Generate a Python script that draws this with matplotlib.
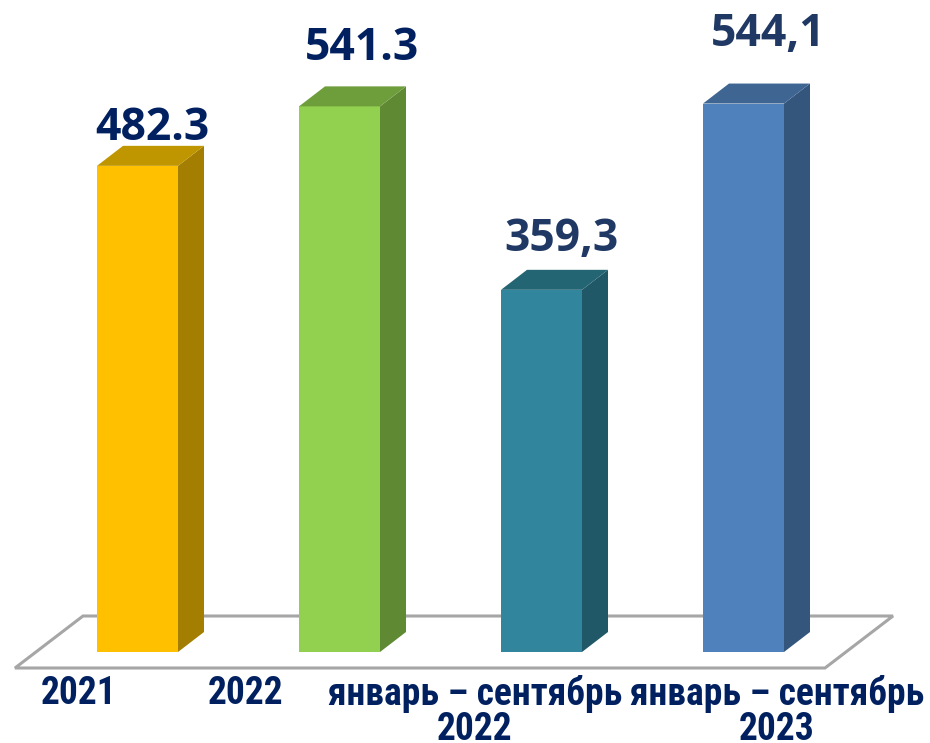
import matplotlib
matplotlib.use('Agg')
import matplotlib.pyplot as plt
import matplotlib.patches as patches

# --- data ---
categories = ['2021', '2022', 'январь – сентябрь\n2022', 'январь – сентябрь\n2023']
values = [482.3, 541.3, 359.3, 544.1]
value_labels = ['482.3', '541.3', '359,3', '544,1']

# --- colours (front, side, top) ---
FRONT = ['#FFC000', '#92D050', '#31859C', '#4F81BD']
SIDE = ['#A37E00', '#5F8A33', '#215868', '#34557C']
TOP = ['#C09600', '#6E9E3C', '#246573', '#3F6592']
LABEL_COL = ['#002060', '#002060', '#1F3864', '#1F3864']
CAT_COL = '#002060'
FLOOR_EDGE = '#A6A6A6'

# --- layout (pixel based, converted to data units) ---
PX_X0 = 137.5      # pixel x of first bar centre
PX_STEP = 202.0    # pixels between bars
PX_BASE = 652.0    # pixel row (from top) of value 0
PX_PER_UNIT = 1.008
W, H = 930, 743

def dx(px):
    return px / PX_STEP

def dy(px):
    return px / PX_PER_UNIT

def to_data(px, py):
    return (px - PX_X0) / PX_STEP, (PX_BASE - py) / PX_PER_UNIT

BAR_W = dx(81)
DEPTH_X = dx(26)
DEPTH_Y = dy(20)

fig = plt.figure(figsize=(W / 100, H / 100), dpi=100)
ax = fig.add_axes([0, 0, 1, 1])
ax.set_xlim(to_data(0, 0)[0], to_data(W, 0)[0])
ax.set_ylim(to_data(0, H)[1], to_data(0, 0)[1])
ax.axis('off')

# floor
floor = [to_data(15, 668), to_data(825, 668), to_data(893, 616), to_data(83, 616)]
ax.add_patch(patches.Polygon(floor, closed=True, facecolor='white', edgecolor=FLOOR_EDGE,
                             linewidth=2.2, zorder=1, joinstyle='miter'))

xs = list(range(len(values)))
ax.bar(xs, values, width=BAR_W, color=FRONT, zorder=3, linewidth=0)

for i, v in enumerate(values):
    r = i + BAR_W / 2
    l = i - BAR_W / 2
    side = [(r, 0), (r + DEPTH_X, DEPTH_Y), (r + DEPTH_X, v + DEPTH_Y), (r, v)]
    top = [(l, v), (r, v), (r + DEPTH_X, v + DEPTH_Y), (l + DEPTH_X, v + DEPTH_Y)]
    ax.add_patch(patches.Polygon(side, closed=True, facecolor=SIDE[i], edgecolor='none', zorder=3))
    ax.add_patch(patches.Polygon(top, closed=True, facecolor=TOP[i], edgecolor='none', zorder=3))

# value labels
lab_dx = [0.075, 0.11, 0.10, 0.12]
lab_dy = [26, 46, 39, 58]
for i, v in enumerate(values):
    ax.text(i + lab_dx[i], v + dy(lab_dy[i]), value_labels[i], ha='center', va='baseline',
            fontsize=32, fontweight='bold', color=LABEL_COL[i],
            family=['Open Sans', 'DejaVu Sans'], zorder=5)

# category labels
cat_px = [79, 246, 475, 777]
for i, c in enumerate(categories):
    x, y = to_data(cat_px[i], 675)
    ax.text(x, y, c, ha='center', va='top', multialignment='center', linespacing=0.92,
            fontsize=27, fontweight='bold', color=CAT_COL,
            family=['Roboto Condensed', 'DejaVu Sans'], zorder=5)

fig.savefig('out.png', dpi=100, facecolor='white')
plt.close(fig)
